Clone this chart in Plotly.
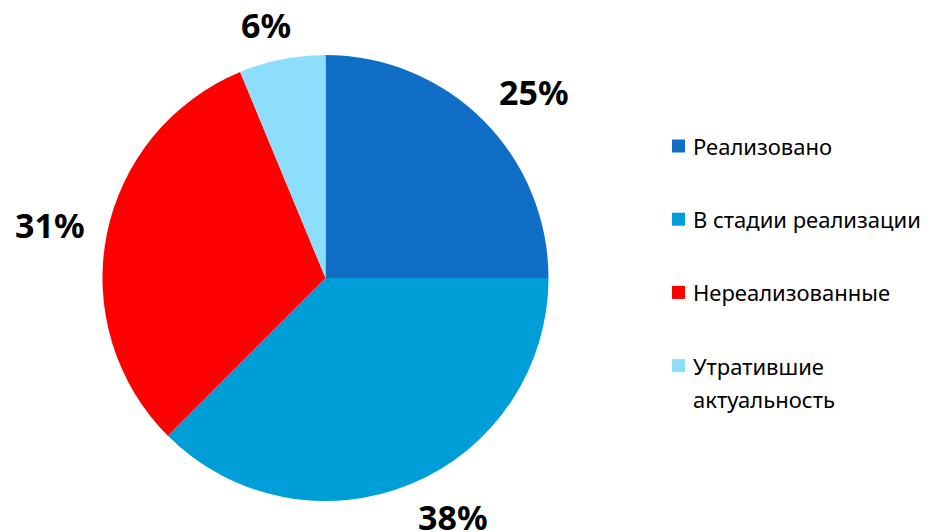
import numpy as np
import plotly.graph_objects as go

labels = ["Реализовано", "В стадии реализации", "Нереализованные", "Утратившие<br>актуальность"]
counts = [4, 6, 5, 1]
colors = ["#116EC6", "#009ED8", "#FF0000", "#8CDEFB"]

W, H = 932, 532
cx, cy, R = 325.5, 278, 223  # pie centre / radius in px

fig = go.Figure()
fig.add_trace(go.Pie(
    labels=labels, values=counts, sort=False, direction="clockwise", rotation=0,
    marker=dict(colors=colors, line=dict(width=0)), textinfo="none", hoverinfo="label+percent",
    domain=dict(x=[(cx - R) / W, (cx + R) / W], y=[1 - (cy + R) / H, 1 - (cy - R) / H]),
    showlegend=False))

# percent labels outside each slice, Excel style
vals = np.array(counts, dtype=float)
pct = vals / vals.sum()
mid = (np.cumsum(pct) - pct / 2) * 2 * np.pi
gap = 22
annotations = []
for p, a in zip(pct, mid):
    txt = f"{round(p * 100):.0f}%"
    s, c = np.sin(a), np.cos(a)
    px_ = cx + (R + gap) * s
    py_ = cy - (R + gap) * c
    w2 = 11.7 * len(txt)
    h2 = 12.5
    annotations.append(dict(
        x=px_ / W, y=1 - py_ / H, xref="paper", yref="paper", text=f"<b>{txt}</b>", showarrow=False,
        xanchor="center", yanchor="middle",
        xshift=float(np.clip(s * 2.5, -1, 1) * w2), yshift=float(np.clip(c * 2, -1, 1) * h2),
        font=dict(family="Noto Sans", size=34, color="black")))

# legend drawn by hand to get Excel spacing
shapes = []
for i, (lab, col) in enumerate(zip(labels, colors)):
    yc = 146 + i * 73.2
    shapes.append(dict(type="rect", xref="paper", yref="paper", x0=672 / W, x1=685 / W,
                       y0=1 - (yc + 6.5) / H, y1=1 - (yc - 6.5) / H, fillcolor=col, line=dict(width=0)))
    for j, line in enumerate(lab.split("<br>")):
        annotations.append(dict(x=691 / W, y=1 - (yc + j * 33) / H, xref="paper", yref="paper",
                                text=line, showarrow=False, xanchor="left", yanchor="middle",
                                font=dict(family="Noto Sans", size=22, color="black")))

fig.update_layout(width=W, height=H, margin=dict(l=0, r=0, t=0, b=0),
                  paper_bgcolor="white", plot_bgcolor="white",
                  annotations=annotations, shapes=shapes)
fig.write_html("out.html", config={"displayModeBar": False},
               post_script="document.body.style.margin='0';")
